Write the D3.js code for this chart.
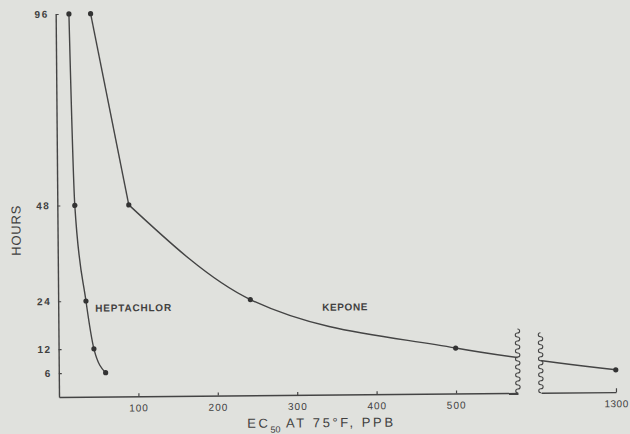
<!DOCTYPE html>
<html>
<head>
<meta charset="utf-8">
<script src="https://cdn.jsdelivr.net/npm/d3@7"></script>
<style>
  html, body { margin: 0; padding: 0; background: #e0e1dd; }
  svg { display: block; }
  text { font-family: "Liberation Sans", Arial, sans-serif; fill: #404040; }
</style>
</head>
<body>
<svg id="chart" width="630" height="434"></svg>
<script>
// Exposure time (hours) against EC50 concentration (ppb) at 75°F
const hourTicks = [6, 12, 24, 48, 96];
const ppbTicksLeft = [100, 200, 300, 400, 500];
const ppbTicksRight = [1300];

const heptachlorPpb = [16.7, 22, 35, 44.5, 59];
const heptachlorHours = [96, 48, 24, 12, 6];

const keponePpb = [44, 90, 242, 500, 1300];
const keponeHours = [96, 48, 24, 11.4, 5.6];

// the concentration axis is broken between these two values
const axisBreak = [578, 1200];

const svg = d3.select("#chart");
const W = 630, H = 434;
svg.append("rect").attr("width", W).attr("height", H).attr("fill", "#e0e1dd");

const ink = "#444";
const originX = 59, originY = 397;

// the whole figure sits a little askew on the page
const g = svg.append("g").attr("transform", `rotate(-0.5, ${originX}, ${originY})`);

const y = d3.scaleLinear().domain([0, 96]).range([originY, 14]);
const xLeft = d3.scaleLinear().domain([0, axisBreak[0]]).range([originX, 518]);
const xRight = d3.scaleLinear().domain([axisBreak[1], 1300]).range([541, 616]);
const x = d3.scaleLinear()
  .domain([0, axisBreak[0], axisBreak[1], 1300])
  .range([originX, 518, 541, 616]);

// clip the curves out of the gap between the two axis pieces
const clip = svg.append("defs").append("clipPath").attr("id", "gapClip");
clip.append("rect").attr("x", 0).attr("y", 0).attr("width", xLeft.range()[1]).attr("height", H);
clip.append("rect").attr("x", xRight.range()[0]).attr("y", 0).attr("width", W).attr("height", H);

function styleAxis(sel) {
  sel.selectAll("path.domain").attr("stroke", ink).attr("stroke-width", 1.4);
  sel.selectAll(".tick line").attr("stroke", ink).attr("stroke-width", 1.2);
  sel.selectAll(".tick text")
    .attr("font-family", "Liberation Sans, Arial, sans-serif")
    .attr("font-size", 10).attr("fill", "#404040").attr("letter-spacing", 1);
}

// hours axis
g.append("g")
  .attr("transform", `translate(${originX},0)`)
  .call(d3.axisLeft(y).tickValues(hourTicks).tickSize(-3).tickSizeOuter(0).tickPadding(7))
  .call(styleAxis)
  .call(s => s.selectAll(".tick text").attr("letter-spacing", 1.5).attr("font-weight", "bold"));

// concentration axis, left piece
g.append("g")
  .attr("transform", `translate(0,${originY})`)
  .call(d3.axisBottom(xLeft).tickValues(ppbTicksLeft).tickSize(-3).tickSizeOuter(0).tickPadding(8))
  .call(styleAxis);

// concentration axis, right piece
g.append("g")
  .attr("transform", `translate(0,${originY})`)
  .call(d3.axisBottom(xRight).tickValues(ppbTicksRight).tickFormat(d3.format("d"))
    .tickSize(-4).tickSizeOuter(0).tickPadding(8))
  .call(styleAxis)
  .call(s => s.selectAll(".tick text").attr("letter-spacing", 0.5));

// wavy break marks
function squiggle(px, top, bottom) {
  const step = 4;
  let d = `M${px},${bottom}`;
  let side = 1;
  for (let yy = bottom; yy - step >= top; yy -= step) {
    d += ` A2.2,2 0 0 ${side > 0 ? 1 : 0} ${px},${yy - step}`;
    side = -side;
  }
  return d;
}
g.append("path").attr("d", squiggle(xLeft.range()[1], 332, originY))
  .attr("fill", "none").attr("stroke", ink).attr("stroke-width", 1.1);
g.append("path").attr("d", squiggle(xRight.range()[0], 335, originY))
  .attr("fill", "none").attr("stroke", ink).attr("stroke-width", 1.1);

const smooth = d3.line().x(d => x(d[0])).y(d => y(d[1])).curve(d3.curveMonotoneX);
const straight = d3.line().x(d => x(d[0])).y(d => y(d[1]));

const heptachlor = d3.zip(heptachlorPpb, heptachlorHours);
const kepone = d3.zip(keponePpb, keponeHours);

function drawPath(d) {
  g.append("path")
    .attr("d", d)
    .attr("clip-path", "url(#gapClip)")
    .attr("fill", "none").attr("stroke", ink).attr("stroke-width", 1.4);
}

// heptachlor: one smooth curve
drawPath(smooth(heptachlor));
// kepone: a straight run down to 48 h, then a smooth curve with a corner at 48 h
drawPath(straight(kepone.slice(0, 2)));
drawPath(smooth(kepone.slice(1)));

[heptachlor, kepone].forEach(pts => {
  g.selectAll(null).data(pts).enter().append("circle")
    .attr("cx", d => x(d[0])).attr("cy", d => y(d[1])).attr("r", 2.6)
    .attr("fill", "#333");
});

// series labels
g.append("text").attr("x", 96).attr("y", 312)
  .attr("font-size", 10).attr("letter-spacing", 0.8).attr("font-weight", "bold")
  .text("HEPTACHLOR");
g.append("text").attr("x", 323).attr("y", 313)
  .attr("font-size", 10).attr("letter-spacing", 0.6).attr("font-weight", "bold")
  .text("KEPONE");

// axis titles
const xt = g.append("text").attr("x", 247).attr("y", 429.5)
  .attr("font-size", 13).attr("letter-spacing", 2.6);
xt.append("tspan").text("EC");
xt.append("tspan").attr("font-size", 9).attr("dy", 5).attr("letter-spacing", 0).text("50");
xt.append("tspan").attr("dy", -5).text(" AT 75°F, PPB");

g.append("text")
  .attr("transform", "translate(22,230) rotate(-90)")
  .attr("text-anchor", "middle")
  .attr("font-size", 13).attr("letter-spacing", 0.8)
  .text("HOURS");
</script>
</body>
</html>
